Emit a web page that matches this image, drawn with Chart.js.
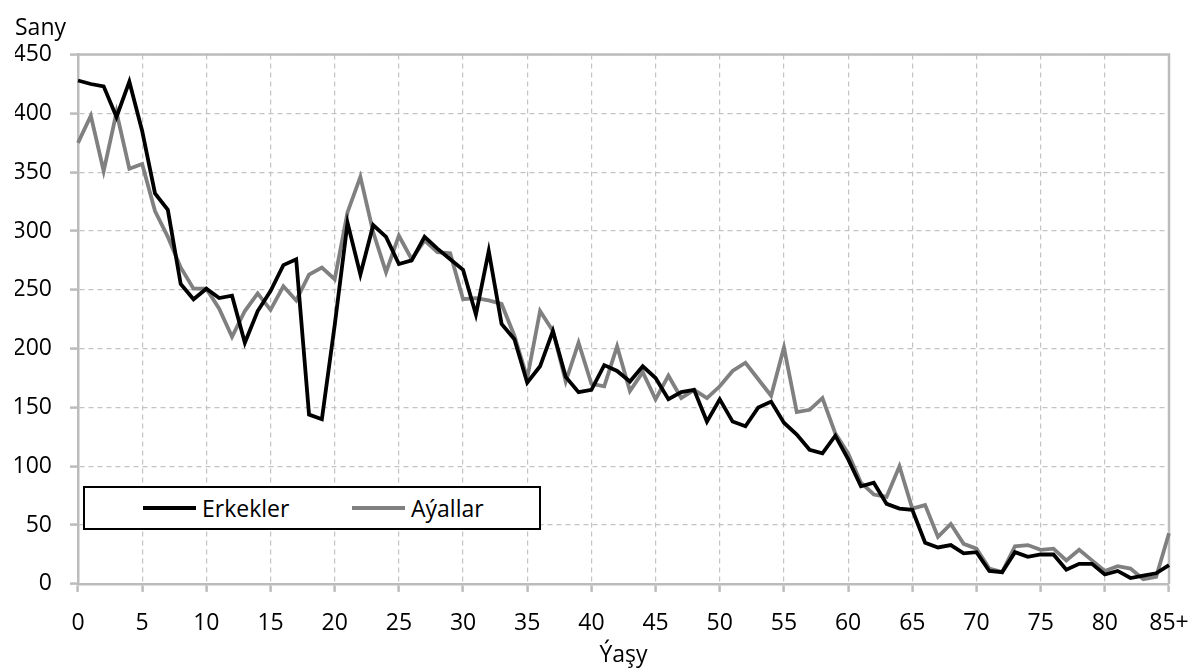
<!DOCTYPE html>
<html>
<head>
<meta charset="utf-8">
<script src="https://cdn.jsdelivr.net/npm/chart.js@4.4.1/dist/chart.umd.min.js"></script>
<style>
  body { margin: 0; background: #fff; }
  #wrap { position: relative; width: 1192px; height: 670px; }
  #legendBox {
    position: absolute; left: 83px; top: 486px; width: 454px; height: 40px;
    border: 2px solid #000; background: #fff;
    font-family: "Open Sans", sans-serif; font-size: 23px; color: #000;
  }
  .item { position: absolute; top: 0; height: 40px; display: flex; align-items: center; }
  .swatch { display: inline-block; width: 53px; height: 4px; margin-right: 6px; }
</style>
</head>
<body>
<div id="wrap">
  <canvas id="chart" width="1192" height="670"></canvas>
  <div id="legendBox"></div>
</div>
<script>
// age labels 0..84, then 85+
const ages = [];
for (let a = 0; a < 85; a++) ages.push(String(a));
ages.push('85+');

const erkekler = [
  428, 425, 423, 397, 427, 385, 332, 318, 255, 242,
  251, 243, 245, 205, 232, 249, 271, 276, 144, 140,
  220, 307, 263, 305, 295, 272, 275, 295, 285, 276,
  267, 229, 283, 221, 208, 171, 185, 215, 176, 163,
  165, 186, 181, 172, 185, 175, 157, 163, 165, 138,
  157, 138, 134, 150, 155, 137, 127, 114, 111, 126,
  106, 83, 86, 68, 64, 63, 35, 31, 33, 26,
  27, 11, 10, 27, 23, 25, 25, 12, 17, 17,
  8, 11, 5, 7, 9, 16
];

const ayallar = [
  375, 398, 351, 401, 353, 357, 317, 295, 269, 251,
  251, 234, 210, 232, 247, 233, 253, 241, 263, 269,
  259, 316, 346, 299, 265, 296, 276, 292, 282, 281,
  242, 243, 241, 238, 211, 175, 232, 215, 172, 205,
  170, 168, 202, 164, 180, 157, 177, 158, 165, 158,
  168, 181, 188, 174, 160, 201, 146, 148, 158, 128,
  111, 86, 76, 74, 100, 64, 67, 40, 51, 34,
  30, 13, 10, 32, 33, 29, 30, 20, 29, 20,
  11, 15, 13, 4, 6, 43
];

const seriesNames = ['Erkekler', 'Aýallar'];
const seriesColors = ['#000000', '#808080'];
const yTicks = [0, 50, 100, 150, 200, 250, 300, 350, 400, 450];

const FONT = { family: '"Open Sans", sans-serif', size: 23 };
const GRID = '#c3c3c3';
const AXIS = '#bcbcbc';

// solid frame on top/right like the original plot area border
const framePlugin = {
  id: 'frame',
  beforeDatasetsDraw(chart) {
    const { ctx, chartArea: a } = chart;
    ctx.save();
    ctx.strokeStyle = AXIS;
    ctx.lineWidth = 2.5;
    ctx.beginPath();
    ctx.moveTo(a.left, a.top);
    ctx.lineTo(a.right, a.top);
    ctx.lineTo(a.right, a.bottom);
    ctx.stroke();
    ctx.restore();
  }
};

const chart = new Chart(document.getElementById('chart'), {
  type: 'line',
  data: {
    labels: ages,
    datasets: [
      { label: seriesNames[0], data: erkekler, borderColor: seriesColors[0], borderWidth: 3.8, pointRadius: 0, tension: 0 },
      { label: seriesNames[1], data: ayallar, borderColor: seriesColors[1], borderWidth: 3.8, pointRadius: 0, tension: 0 }
    ]
  },
  options: {
    responsive: false,
    animation: false,
    layout: { padding: { left: 15, right: 0, top: 6, bottom: 0 } },
    plugins: {
      legend: { display: false },
      tooltip: { enabled: false },
      title: {
        display: true, text: 'Sany', align: 'start', color: '#000',
        font: { ...FONT, weight: 'normal' }, padding: { top: 9, bottom: 12 }
      }
    },
    scales: {
      x: {
        type: 'category',
        grid: { color: GRID, lineWidth: 1.2, tickLength: 8, tickColor: AXIS, tickWidth: 2.5 },
        border: { color: AXIS, width: 2.5, dash: [5, 4] },
        ticks: {
          autoSkip: false, maxRotation: 0, color: '#000', font: { ...FONT, lineHeight: 0.72 }, padding: 23,
          callback: (v, i) => (i % 5 === 0 ? ages[i] : null)
        },
        title: {
          display: true, text: 'Ýaşy', color: '#000',
          font: { ...FONT, lineHeight: 0.05 }, padding: { top: 0, bottom: 14.4 }
        },
        afterFit: (axis) => { axis.paddingLeft = 0; axis.paddingRight = 23; }
      },
      y: {
        min: 0, max: 450,
        afterBuildTicks: (axis) => { axis.ticks = yTicks.map(v => ({ value: v })); },
        grid: { color: GRID, lineWidth: 1.2, tickLength: 8, tickColor: AXIS, tickWidth: 2.5 },
        border: { color: AXIS, width: 2.5, dash: [5, 4] },
        ticks: { color: '#000', font: FONT, padding: 18 },
        afterFit: (axis) => { axis.width = 63; }
      }
    }
  },
  plugins: [framePlugin]
});

// legend box inside the plot, built from the datasets
const box = document.getElementById('legendBox');
const itemLeft = [58, 267];
chart.data.datasets.forEach((ds, i) => {
  const it = document.createElement('div');
  it.className = 'item';
  it.style.left = itemLeft[i] + 'px';
  it.innerHTML = `<span class="swatch" style="background:${ds.borderColor}"></span><span>${ds.label}</span>`;
  box.appendChild(it);
});
</script>
</body>
</html>
